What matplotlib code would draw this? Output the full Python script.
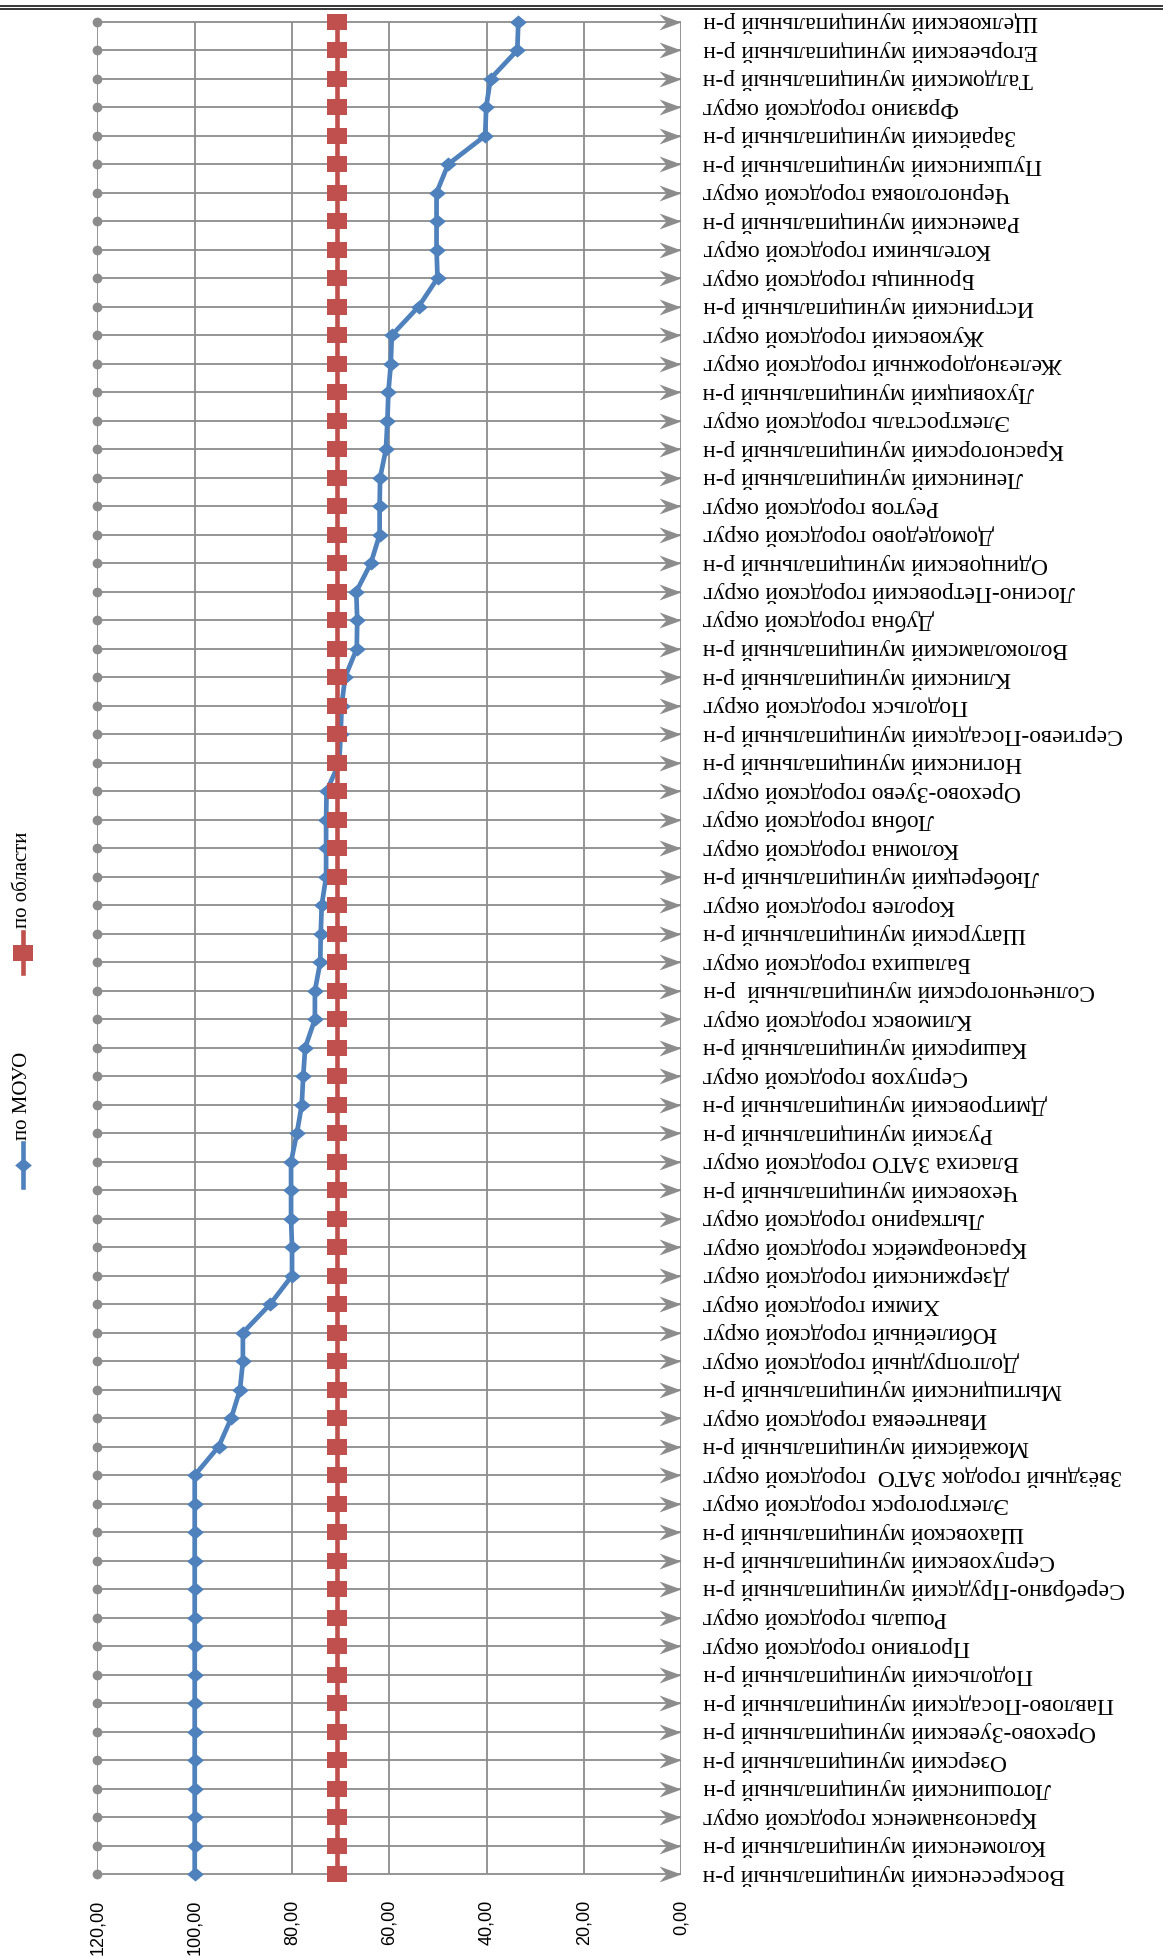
import matplotlib
matplotlib.use('Agg')
import matplotlib.pyplot as plt
import matplotlib.transforms as mtransforms
from matplotlib.lines import Line2D
import numpy as np

# ---------------- data (bottom to top) ----------------
categories = [
    "Воскресенский муниципальный р-н",
    "Коломенский муниципальный р-н",
    "Краснознаменск городской округ",
    "Лотошинский муниципальный р-н",
    "Озерский муниципальный р-н",
    "Орехово-Зуевский муниципальный р-н",
    "Павлово-Посадский муниципальный р-н",
    "Подольский муниципальный р-н",
    "Протвино городской округ",
    "Рошаль городской округ",
    "Серебряно-Прудский муниципальный р-н",
    "Серпуховский муниципальный р-н",
    "Шаховской муниципальный р-н",
    "Электрогорск городской округ",
    "Звёздный городок ЗАТО  городской округ",
    "Можайский муниципальный р-н",
    "Ивантеевка городской округ",
    "Мытищинский муниципальный р-н",
    "Долгопрудный городской округ",
    "Юбилейный городской округ",
    "Химки городской округ",
    "Дзержинский городской округ",
    "Красноармейск городской округ",
    "Лыткарино городской округ",
    "Чеховский муниципальный р-н",
    "Власиха ЗАТО городской округ",
    "Рузский муниципальный р-н",
    "Дмитровский муниципальный р-н",
    "Серпухов городской округ",
    "Каширский муниципальный р-н",
    "Климовск городской округ",
    "Солнечногорский муниципальный  р-н",
    "Балашиха городской округ",
    "Шатурский муниципальный р-н",
    "Королев городской округ",
    "Люберецкий муниципальный р-н",
    "Коломна городской округ",
    "Лобня городской округ",
    "Орехово-Зуево городской округ",
    "Ногинский муниципальный р-н",
    "Сергиево-Посадский муниципальный р-н",
    "Подольск городской округ",
    "Клинский муниципальный р-н",
    "Волоколамский муниципальный р-н",
    "Дубна городской округ",
    "Лосино-Петровский городской округ",
    "Одинцовский муниципальный р-н",
    "Домодедово городской округ",
    "Реутов городской округ",
    "Ленинский муниципальный р-н",
    "Красногорский муниципальный р-н",
    "Электросталь городской округ",
    "Луховицкий муниципальный р-н",
    "Железнодорожный городской округ",
    "Жуковский городской округ",
    "Истринский муниципальный р-н",
    "Бронницы городской округ",
    "Котельники городской округ",
    "Раменский муниципальный р-н",
    "Черноголовка городской округ",
    "Пушкинский муниципальный р-н",
    "Зарайский муниципальный р-н",
    "Фрязино городской округ",
    "Талдомский муниципальный р-н",
    "Егорьевский муниципальный р-н",
    "Щелковский муниципальный р-н",
]

po_moyo = [
    100, 100, 100, 100, 100, 100, 100, 100, 100, 100, 100, 100, 100, 100, 100,
    95.1, 92.5, 90.7, 90.1, 90.1, 84.5,
    80.0, 80.0, 80.2, 80.2, 80.2,
    79.0, 78.0, 77.7, 77.3, 75.3, 75.3, 74.2, 74.1, 73.9,
    73.0, 73.0, 73.0, 72.9, 70.3, 70.0, 69.8, 69.1,
    66.7, 66.6, 66.8, 63.8, 62.0, 62.0, 61.9, 60.7, 60.4, 60.2, 59.7, 59.5,
    54.0, 50.1, 50.3, 50.3, 50.3, 47.9, 40.3, 40.1, 39.2, 33.7, 33.5,
]

po_oblasti = [70.8] * 66

value_ticks = [120, 100, 80, 60, 40, 20, 0]
series_names = ["по МОУО", "по области"]

# ---------------- styling ----------------
W, H = 1163, 1959
BLUE = "#4F81BD"
RED = "#C0504D"
GRID = "#8C8C8C"
SERIF = ["Liberation Serif", "DejaVu Serif"]
SANS = ["Liberation Sans", "DejaVu Sans"]

fig = plt.figure(figsize=(W / 100, H / 100), dpi=100)
x_left, x_right = 97.4, 681.3
y_top, y_bot = 7.45, 1888.5
ax = fig.add_axes([x_left / W, 1 - y_bot / H, (x_right - x_left) / W, (y_bot - y_top) / H])
ax.set_xlim(120, 0)
n = len(categories)
ax.set_ylim(-0.5, n - 0.5)
ax.axis("off")

yy = np.arange(n)

# grid
ax.vlines([100, 80, 60, 40, 20], 0, n - 1, color=GRID, lw=1.3, zorder=1)
ax.vlines([120, 0], 0, n - 1, color=GRID, lw=1.3, zorder=1)
ax.hlines(yy, 120, 0, color=GRID, lw=1.3, zorder=1)
ax.plot(np.full(n, 120), yy, "o", color=GRID, ms=6, zorder=2, clip_on=False)
arrow = [(0, 0), (-22, 8), (-15, 0), (-22, -8), (0, 0)]
ax.plot(np.zeros(n), yy, linestyle="none", marker=arrow, ms=31.7,
        color=GRID, mew=0, zorder=2, clip_on=False)

diamond = [(-1, 0), (0, 0.85), (1, 0), (0, -0.85), (-1, 0)]
square = [(-1, -0.83), (1, -0.83), (1, 0.83), (-1, 0.83), (-1, -0.83)]

ax.plot(po_moyo, yy, color=BLUE, lw=3.4, marker=diamond, ms=12, mew=0,
        zorder=4, clip_on=False)
ax.plot(po_oblasti, yy, color=RED, lw=3.3, marker=square, ms=13.7, mew=0,
        zorder=5, clip_on=False)

# category labels (upside down, as in the reference)
trans_lab = mtransforms.blended_transform_factory(fig.transFigure, ax.transData)
for i, c in enumerate(categories):
    ax.text(703 / W, i, c, transform=trans_lab, rotation=180, ha="left",
            va="center", fontsize=17, family=SERIF, clip_on=False)

# value tick labels
trans_tick = mtransforms.blended_transform_factory(ax.transData, fig.transFigure)
for t in value_ticks:
    ax.text(t, 1 - 1900 / H, f"{t:.2f}".replace(".", ","), transform=trans_tick,
            rotation=90, ha="center", va="top", fontsize=13, family=SANS,
            clip_on=False)

# top double rule
for yl in (5.5, 8.5):
    fig.add_artist(Line2D([0, 1], [1 - yl / H] * 2, transform=fig.transFigure,
                          color="black", lw=1.1))

# legend (rotated)
lx = 22.7 / W
def legend_item(color, marker, ms, y0, y1, ytext, label):
    fig.add_artist(Line2D([lx, lx], [1 - y0 / H, 1 - y1 / H], color=color, lw=3.3,
                          transform=fig.transFigure))
    fig.add_artist(Line2D([lx], [1 - (y0 + y1) / 2 / H], color=color, marker=marker,
                          ms=ms, mew=0, linestyle="none", transform=fig.transFigure))
    fig.text(lx, 1 - ytext / H, label, rotation=90, ha="center", va="bottom",
             fontsize=15, family=SERIF)

legend_item(BLUE, diamond, 12, 1143, 1187, 1140, series_names[0])
legend_item(RED, square, 13.7, 932, 973, 928, series_names[1])

fig.savefig("out.png", dpi=100)
